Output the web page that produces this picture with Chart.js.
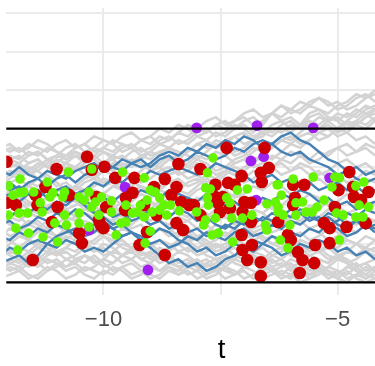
<!DOCTYPE html>
<html><head><meta charset="utf-8">
<script src="https://cdn.jsdelivr.net/npm/chart.js@4.4.1/dist/chart.umd.min.js"></script>
<style>html,body{margin:0;padding:0;background:#fff;overflow:hidden;width:375px;height:366px;}canvas{display:block;}</style>
</head><body><canvas id="c" width="443" height="366"></canvas>
<script>
// ---- data ----
const tGrid = [-12.2,-12.0,-11.8,-11.6,-11.4,-11.2,-11.0,-10.8,-10.6,-10.4,-10.2,-10.0,-9.8,-9.6,-9.4,-9.2,-9.0,-8.8,-8.6,-8.4,-8.2,-8.0,-7.8,-7.6,-7.4,-7.2,-7.0,-6.8,-6.6,-6.4,-6.2,-6.0,-5.8,-5.6,-5.4,-5.2,-5.0,-4.8,-4.6,-4.4,-4.2];

const greyPaths = [
 [1.3,1.5,1.4,1.6,1.5,1.4,1.6,1.7,1.5,1.6, 1.4,1.5,1.7,1.6,1.5,1.7,1.6,1.8,1.7,1.9, 1.8,2.0,1.9,2.1,2.2,2.0,2.2,2.3,2.1,2.4, 2.3,2.5,2.4,2.6,2.5,2.4,2.6,2.7,2.9,2.8,3.0],
 [1.0,1.2,1.1,1.3,1.4,1.2,1.3,1.5,1.6,1.4, 1.5,1.7,1.6,1.4,1.5,1.3,1.4,1.6,1.5,1.7, 1.6,1.8,1.7,1.9,1.8,2.0,2.1,1.9,2.2,2.4, 2.2,2.3,2.1,2.4,2.5,2.3,2.2,2.4,2.3,2.5,2.6],
 [0.6,0.8,0.7,0.9,1.1,1.0,1.2,1.1,1.3,1.2, 1.0,1.1,1.3,1.2,1.4,1.5,1.3,1.4,1.2,1.3, 1.5,1.4,1.6,1.5,1.7,1.8,1.6,1.7,1.9,1.8, 2.0,1.9,2.1,2.2,2.0,2.1,1.9,2.0,2.2,2.1,2.3],
 [0.8,0.6,0.7,0.5,0.7,0.9,0.8,1.0,0.9,1.1, 1.2,1.0,0.9,1.1,1.0,1.2,1.4,1.3,1.5,1.4, 1.3,1.2,1.4,1.6,1.5,1.3,1.4,1.2,1.3,1.5, 1.7,1.6,1.8,1.9,1.7,1.8,2.0,1.9,1.7,1.8,1.6],
 [0.3,0.5,0.4,0.6,0.5,0.7,0.6,0.4,0.5,0.7, 0.8,0.6,0.7,0.9,0.8,0.6,0.7,0.9,1.0,0.8, 0.9,1.1,1.0,0.8,0.9,1.1,1.2,1.0,1.1,1.3, 1.2,1.4,1.3,1.1,1.2,1.4,1.5,1.3,1.4,1.6,1.5],
 [0.1,0.0,0.2,0.3,0.1,0.2,0.4,0.3,0.5,0.4, 0.2,0.3,0.5,0.6,0.4,0.5,0.3,0.4,0.6,0.7, 0.5,0.6,0.8,0.7,0.9,0.8,0.6,0.7,0.9,1.0, 0.8,0.9,1.1,1.0,0.8,0.9,1.1,1.2,1.0,1.1,0.9],
 [-0.2,0.0,-0.1,0.1,0.0,-0.2,-0.1,0.1,0.2,0.0, 0.1,0.3,0.2,0.0,0.1,0.3,0.2,0.4,0.3,0.1, 0.2,0.4,0.5,0.3,0.4,0.2,0.3,0.5,0.4,0.6, 0.5,0.3,0.4,0.6,0.7,0.5,0.6,0.4,0.5,0.7,0.6],
 [-0.5,-0.3,-0.4,-0.2,-0.3,-0.1,-0.2,-0.4,-0.3,-0.1, 0.0,-0.2,-0.1,0.1,0.0,-0.2,-0.1,0.1,0.0,0.2, 0.1,-0.1,0.0,0.2,0.1,0.3,0.2,0.0,0.1,-0.1, 0.0,0.2,0.1,0.3,0.2,0.0,0.1,0.3,0.2,0.0,0.1],
 [-0.8,-0.6,-0.7,-0.5,-0.6,-0.4,-0.5,-0.7,-0.6,-0.4, -0.5,-0.3,-0.4,-0.6,-0.5,-0.3,-0.4,-0.2,-0.3,-0.5, -0.4,-0.2,-0.3,-0.1,-0.2,-0.4,-0.3,-0.1,-0.2,0.0, -0.1,-0.3,-0.2,0.0,-0.1,0.1,0.0,-0.2,-0.1,0.1,0.0],
 [-1.0,-1.2,-1.1,-0.9,-1.0,-0.8,-0.9,-0.7,-0.8,-1.0, -0.9,-0.7,-0.8,-0.6,-0.7,-0.9,-0.8,-0.6,-0.7,-0.5, -0.6,-0.8,-0.7,-0.5,-0.6,-0.4,-0.5,-0.7,-0.6,-0.4, -0.5,-0.3,-0.4,-0.6,-0.5,-0.3,-0.4,-0.2,-0.3,-0.5,-0.4],
 [-1.4,-1.2,-1.3,-1.5,-1.4,-1.2,-1.3,-1.1,-1.2,-1.0, -1.1,-1.3,-1.2,-1.0,-1.1,-0.9,-1.0,-1.2,-1.1,-0.9, -1.0,-0.8,-0.9,-1.1,-1.0,-0.8,-0.9,-0.7,-0.8,-1.0, -0.9,-0.7,-0.8,-0.6,-0.7,-0.9,-0.8,-0.6,-0.7,-0.5,-0.6],
 [-1.7,-1.5,-1.6,-1.4,-1.5,-1.7,-1.6,-1.4,-1.5,-1.3, -1.4,-1.6,-1.5,-1.3,-1.4,-1.2,-1.3,-1.5,-1.4,-1.2, -1.3,-1.5,-1.4,-1.6,-1.5,-1.3,-1.4,-1.2,-1.3,-1.5, -1.4,-1.2,-1.3,-1.1,-1.2,-1.4,-1.3,-1.5,-1.4,-1.2,-1.3],
 [-1.9,-1.8,-1.7,-1.9,-1.8,-1.6,-1.7,-1.9,-1.8,-1.6, -1.7,-1.8,-1.6,-1.7,-1.9,-1.8,-1.6,-1.7,-1.5,-1.6, -1.8,-1.7,-1.9,-1.8,-1.6,-1.7,-1.9,-1.8,-1.6,-1.7, -1.8,-1.6,-1.7,-1.9,-1.8,-1.6,-1.7,-1.8,-1.6,-1.8,-1.9],
 [1.2,1.0,1.1,0.9,0.7,0.8,0.6,0.4,0.5,0.3, 0.1,0.2,0.0,-0.2,-0.1,-0.3,-0.5,-0.4,-0.6,-0.8, -0.7,-0.9,-1.1,-1.0,-1.2,-1.1,-1.3,-1.5,-1.4,-1.6, -1.5,-1.7,-1.6,-1.8,-1.7,-1.9,-1.8,-1.6,-1.7,-1.9,-1.8],
 [-1.6,-1.4,-1.5,-1.3,-1.1,-1.2,-1.0,-0.8,-0.9,-0.7, -0.5,-0.6,-0.4,-0.2,-0.3,-0.1,0.1,0.0,0.2,0.4, 0.3,0.5,0.7,0.6,0.8,1.0,0.9,1.1,1.3,1.2, 1.4,1.6,1.5,1.7,1.9,1.8,2.0,2.2,2.1,2.3,2.5],
 [0.4,0.2,0.3,0.1,-0.1,0.0,-0.2,-0.1,-0.3,-0.2, -0.4,-0.3,-0.5,-0.4,-0.6,-0.5,-0.7,-0.6,-0.8,-0.7, -0.9,-0.8,-1.0,-0.9,-0.7,-0.8,-0.6,-0.7,-0.9,-0.8, -1.0,-1.1,-0.9,-1.0,-1.2,-1.1,-1.3,-1.2,-1.0,-1.1,-0.9],
 [1.5,1.6,1.4,1.5,1.7,1.6,1.4,1.3,1.5,1.6, 1.8,1.7,1.6,1.8,1.9,1.7,1.8,2.0,1.9,2.1, 2.0,1.8,1.9,2.1,2.0,2.2,2.3,2.1,2.2,2.4, 2.6,2.5,2.7,2.6,2.8,2.7,2.5,2.6,2.8,2.9,2.7],
 [-1.2,-1.0,-0.8,-0.9,-0.7,-0.6,-0.8,-0.9,-0.7,-0.5, -0.6,-0.8,-1.0,-0.9,-1.1,-1.3,-1.2,-1.4,-1.3,-1.5, -1.4,-1.6,-1.5,-1.7,-1.6,-1.4,-1.5,-1.3,-1.4,-1.2, -1.1,-1.3,-1.4,-1.6,-1.5,-1.7,-1.8,-1.6,-1.5,-1.7,-1.6],
 [0.9,1.1,1.0,0.8,0.9,0.7,0.5,0.6,0.4,0.6, 0.7,0.9,0.8,0.6,0.5,0.7,0.9,1.0,1.2,1.1, 1.0,1.2,1.1,0.9,1.0,1.2,1.3,1.5,1.4,1.6, 1.8,1.7,1.9,2.1,2.0,2.2,2.4,2.3,2.5,2.4,2.2],
 [-0.3,-0.5,-0.6,-0.4,-0.5,-0.7,-0.8,-0.6,-0.7,-0.9, -1.0,-0.8,-0.9,-1.1,-1.2,-1.0,-1.1,-0.9,-1.0,-1.2, -1.1,-1.3,-1.2,-1.0,-1.1,-1.3,-1.2,-1.4,-1.5,-1.3, -1.4,-1.6,-1.5,-1.7,-1.6,-1.8,-1.7,-1.9,-1.8,-1.6,-1.7],
 [-1.8,-1.6,-1.7,-1.5,-1.6,-1.4,-1.5,-1.7,-1.6,-1.8, -1.9,-1.7,-1.8,-1.6,-1.5,-1.7,-1.8,-1.9,-1.7,-1.8, -1.6,-1.7,-1.5,-1.4,-1.6,-1.8,-1.7,-1.9,-1.8,-1.7, -1.9,-1.8,-2.0,-1.9,-1.7,-1.8,-1.9,-1.7,-1.9,-2.0,-1.9],
 [1.1,1.3,1.2,1.4,1.3,1.5,1.4,1.2,1.3,1.1, 1.2,1.4,1.3,1.5,1.6,1.4,1.5,1.7,1.8,1.6, 1.7,1.9,2.0,1.8,1.9,2.1,2.0,1.8,1.9,2.1, 2.2,2.0,2.1,2.3,2.4,2.2,2.3,2.1,2.2,2.4,2.5],
 [-1.0,-0.9,-1.1,-1.2,-1.0,-1.1,-1.3,-1.2,-1.4,-1.3, -1.5,-1.4,-1.2,-1.3,-1.1,-1.2,-1.4,-1.3,-1.1,-1.0, -1.2,-1.1,-1.3,-1.4,-1.3,-1.5,-1.6,-1.4,-1.5,-1.7, -1.6,-1.4,-1.5,-1.3,-1.4,-1.5,-1.3,-1.4,-1.6,-1.5,-1.4],
 [0.0,0.2,0.1,-0.1,-0.2,0.0,0.1,-0.1,0.0,0.2, 0.4,0.3,0.5,0.4,0.6,0.5,0.3,0.5,0.6,0.4, 0.6,0.7,0.5,0.4,0.6,0.5,0.7,0.9,0.8,1.0, 1.1,0.9,1.0,0.8,0.9,0.7,0.8,0.6,0.7,0.9,0.8],
 [-0.6,-0.8,-0.7,-0.9,-1.1,-1.0,-1.2,-1.1,-0.9,-1.0, -1.2,-1.1,-1.3,-1.5,-1.4,-1.6,-1.5,-1.7,-1.6,-1.8, -1.7,-1.9,-1.8,-1.6,-1.7,-1.8,-1.6,-1.7,-1.9,-1.8, -1.7,-1.8,-1.6,-1.5,-1.7,-1.6,-1.4,-1.5,-1.7,-1.8,-1.6],
 [0.5,0.7,0.9,0.8,1.0,1.2,1.1,0.9,1.0,0.8, 0.7,0.5,0.6,0.4,0.3,0.5,0.4,0.2,0.3,0.1, 0.0,0.2,0.1,-0.1,0.0,-0.2,-0.3,-0.1,-0.2,-0.4, -0.3,-0.5,-0.4,-0.2,-0.3,-0.1,-0.2,-0.4,-0.5,-0.3,-0.4],
 [1.4,1.2,1.3,1.1,1.2,1.0,1.1,1.3,1.4,1.2, 1.3,1.5,1.4,1.6,1.5,1.7,1.8,1.6,1.7,1.9, 2.1,2.0,2.2,2.3,2.1,2.2,2.4,2.5,2.3,2.4, 2.6,2.4,2.5,2.7,2.8,2.6,2.7,2.5,2.6,2.8,2.9],
 [-1.5,-1.7,-1.6,-1.8,-1.9,-1.7,-1.5,-1.6,-1.4,-1.5, -1.3,-1.5,-1.7,-1.6,-1.8,-1.7,-1.9,-1.8,-1.6,-1.7, -1.5,-1.6,-1.8,-1.7,-1.9,-1.8,-1.6,-1.5,-1.7,-1.6, -1.8,-1.9,-1.7,-1.8,-1.6,-1.7,-1.9,-2.0,-1.8,-1.9,-1.7],
 [0.2,0.4,0.3,0.5,0.4,0.2,0.3,0.1,0.2,0.4, 0.5,0.7,0.6,0.8,0.7,0.9,1.1,1.0,0.8,0.9, 1.1,1.3,1.2,1.4,1.3,1.1,1.2,1.4,1.6,1.5, 1.7,1.8,1.6,1.7,1.9,2.0,1.8,1.9,2.1,2.0,2.2],
 [-0.4,-0.2,-0.3,-0.5,-0.4,-0.6,-0.5,-0.3,-0.4,-0.2, -0.3,-0.5,-0.4,-0.2,-0.1,-0.3,-0.2,-0.4,-0.5,-0.3, -0.4,-0.6,-0.5,-0.7,-0.8,-0.6,-0.7,-0.9,-0.8,-1.0, -1.1,-0.9,-1.0,-1.2,-1.1,-1.3,-1.4,-1.2,-1.3,-1.1,-1.2],
 [1.6,1.4,1.5,1.3,1.4,1.2,1.0,1.1,0.9,1.0, 0.8,0.9,1.1,1.0,1.2,1.1,0.9,1.0,0.8,0.9, 0.7,0.8,0.6,0.7,0.9,0.8,1.0,1.1,0.9,1.0, 1.2,1.1,1.3,1.2,1.4,1.3,1.5,1.6,1.4,1.5,1.3],
 [-1.1,-1.3,-1.4,-1.2,-1.3,-1.5,-1.4,-1.6,-1.5,-1.7, -1.6,-1.4,-1.5,-1.3,-1.2,-1.4,-1.3,-1.1,-1.2,-1.0, -0.9,-1.1,-1.0,-1.2,-1.1,-0.9,-1.0,-1.2,-1.1,-1.3, -1.2,-1.0,-1.1,-1.3,-1.2,-1.0,-1.1,-0.9,-1.0,-1.2,-1.1],
 [0.7,0.9,0.8,1.0,0.9,1.1,1.3,1.2,1.4,1.3, 1.5,1.4,1.2,1.3,1.1,1.2,1.0,1.1,1.3,1.2, 1.4,1.6,1.5,1.7,1.6,1.4,1.5,1.7,1.8,2.0, 1.9,2.1,2.0,2.2,2.1,2.3,2.2,2.0,2.1,2.3,2.4],
 [-1.3,-1.5,-1.4,-1.6,-1.5,-1.3,-1.2,-1.4,-1.3,-1.1, -1.2,-1.0,-1.1,-1.3,-1.2,-1.4,-1.5,-1.3,-1.4,-1.6, -1.5,-1.4,-1.6,-1.5,-1.3,-1.4,-1.2,-1.3,-1.5,-1.4, -1.6,-1.5,-1.7,-1.6,-1.4,-1.5,-1.3,-1.4,-1.6,-1.5,-1.7],
 [0.3,0.1,0.2,0.0,0.1,-0.1,0.0,0.2,0.1,-0.1, -0.2,0.0,-0.1,-0.3,-0.2,0.0,0.1,-0.1,0.0,-0.2, -0.3,-0.1,-0.2,-0.4,-0.3,-0.5,-0.4,-0.6,-0.5,-0.7, -0.6,-0.8,-0.7,-0.9,-0.8,-0.6,-0.7,-0.9,-1.0,-0.8,-0.9],
 [1.0,0.8,0.9,1.1,1.2,1.0,0.9,1.1,1.0,1.2, 1.3,1.1,1.2,1.0,1.1,1.3,1.2,1.4,1.5,1.3, 1.4,1.6,1.7,1.5,1.6,1.8,1.9,1.7,2.0,1.9, 2.1,2.2,2.0,2.1,2.3,2.2,2.0,2.2,2.4,2.6,2.5]
];

const bluePaths = [
 [0.9,0.8,1.0,0.8,0.7,0.9,0.8,0.7,0.9,1.0, 1.1,0.9,1.0,1.2,1.1,1.0,1.1,1.3,1.4,1.3, 1.5,1.4,1.6,1.5,1.7,1.6,1.8,1.7,1.5,1.6, 1.4,1.3,1.4,1.2,1.1,1.0,0.8,0.9,0.7,0.6,0.7],
 [0.5,0.6,0.4,0.6,0.7,0.5,0.7,0.8,0.6,0.8, 0.9,1.1,1.0,0.9,1.1,1.2,1.0,1.2,1.3,1.1, 1.2,1.4,1.3,1.2,1.3,1.5,1.4,1.6,1.7,1.6, 1.8,1.9,1.7,1.6,1.4,1.2,1.1,0.9,1.0,0.8,0.9],
 [0.2,0.3,0.1,0.3,0.4,0.2,0.4,0.5,0.3,0.4, 0.6,0.5,0.7,0.6,0.8,0.7,0.9,0.8,0.9,1.0, 0.9,0.8,0.9,1.1,1.0,0.9,0.8,0.6,0.7,0.8, 0.6,0.7,0.5,0.6,0.4,0.5,0.6,0.4,0.5,0.3,0.4],
 [-0.2,-0.3,-0.1,-0.2,0.0,-0.1,0.1,0.0,0.2,0.1, 0.0,0.2,0.1,0.3,0.2,0.4,0.3,0.2,0.4,0.3, 0.2,0.1,0.3,0.2,0.0,0.1,-0.1,0.0,0.2,0.1, 0.3,0.2,0.4,0.3,0.1,0.2,0.0,0.1,-0.1,0.0,0.1],
 [-0.5,-0.4,-0.6,-0.5,-0.3,-0.4,-0.2,-0.3,-0.1,-0.2, -0.4,-0.3,-0.5,-0.4,-0.2,-0.3,-0.1,-0.2,-0.3,-0.1, -0.2,-0.4,-0.3,-0.5,-0.6,-0.4,-0.5,-0.3,-0.4,-0.2, -0.3,-0.1,-0.2,-0.4,-0.3,-0.5,-0.4,-0.2,-0.3,-0.1,-0.2],
 [-1.3,-1.1,-1.2,-1.0,-0.9,-1.0,-0.8,-0.7,-0.6,-0.8, -0.7,-0.5,-0.6,-0.8,-0.7,-0.9,-0.8,-0.6,-0.7,-0.9, -1.0,-1.2,-1.1,-1.3,-1.2,-1.0,-1.1,-0.9,-1.0,-0.8, -0.9,-0.7,-0.8,-0.6,-0.7,-0.5,-0.6,-0.8,-0.7,-0.5,-0.6],
 [-1.5,-1.4,-1.3,-1.5,-1.3,-1.0,-1.1,-0.9,-1.0,-1.2, -1.1,-1.2,-1.0,-0.8,-0.7,-0.9,-1.1,-1.3,-1.5,-1.4, -1.6,-1.5,-1.7,-1.6,-1.4,-1.3,-1.1,-1.2,-1.0,-1.1, -1.3,-1.2,-1.0,-1.1,-0.9,-1.0,-1.2,-1.1,-1.3,-1.2,-1.4],
 [0.6,0.4,0.5,0.3,0.2,0.4,0.3,0.1,0.2,0.0, -0.2,-0.1,-0.3,-0.2,-0.4,-0.3,-0.5,-0.4,-0.6,-0.5, -0.7,-0.6,-0.8,-0.7,-0.5,-0.6,-0.4,-0.5,-0.3,-0.4, -0.2,-0.3,-0.1,-0.2,-0.4,-0.3,-0.5,-0.6,-0.4,-0.5,-0.7],
 [-0.8,-0.9,-0.7,-0.8,-0.6,-0.7,-0.5,-0.6,-0.8,-0.7, -0.5,-0.4,-0.6,-0.5,-0.7,-0.8,-1.0,-0.9,-1.1,-1.0, -0.8,-0.9,-0.7,-0.8,-0.9,-0.7,-0.6,-0.8,-0.7,-0.5, -0.6,-0.4,-0.5,-0.3,-0.4,-0.2,-0.3,-0.5,-0.4,-0.6,-0.5]
];

const redT = [-12.07,-10.35,-11.00,-10.25,-11.24,-11.45,-12.07,-11.87,-11.41,-10.98,-10.73,-10.15,-11.10,-10.52,-10.46,-10.06,-11.51,-9.98,-9.75,-9.34,-8.40,-8.69,-8.44,-9.52,-9.38,-8.92,-8.55,-8.34,-8.17,-9.54,-9.94,-10.10,-10.00,-9.13,-8.86,-8.44,-8.30,-9.07,-9.23,-8.69,-7.37,-6.56,-7.93,-7.05,-6.64,-6.47,-6.62,-7.61,-7.34,-7.20,-7.45,-7.61,-7.55,-7.51,-7.30,-6.99,-6.85,-7.03,-8.07,-7.93,-6.85,-6.27,-7.05,-6.83,-7.03,-6.93,-6.64,-6.64,-4.75,-5.95,-5.71,-4.98,-4.67,-4.65,-5.91,-5.95,-5.06,-5.29,-5.17,-4.81,-6.06,-6.00,-5.17,-5.48,-5.85,-5.75,-5.50,-5.81,-4.40,-4.50,-4.34];
const redV = [1.14,1.27,0.95,0.93,0.48,0.27,0.07,0.01,0.01,-0.04,0.27,0.22,-0.43,-0.72,-0.98,-0.51,-1.42,1.01,0.72,0.72,1.08,0.69,0.48,0.20,0.33,0.48,0.27,0.09,0.01,-0.12,-0.04,-0.38,-0.59,0.01,-0.25,-0.46,-0.64,-0.69,-1.03,-1.29,1.50,1.50,0.95,0.77,0.85,0.98,0.61,0.54,0.59,0.54,0.22,0.22,0.07,-0.17,-0.07,0.09,0.07,-0.17,0.01,-0.25,-0.43,-0.43,-0.77,-1.03,-1.16,-1.42,-1.48,-1.84,0.87,0.54,0.54,0.40,0.48,0.22,0.20,0.01,-0.04,-0.46,-0.59,-0.56,-0.77,-0.90,-0.98,-1.03,-1.21,-1.42,-1.50,-1.76,-0.46,0.14,0.35];

const greenT = [-11.78,-10.75,-10.25,-11.20,-12.03,-11.70,-11.93,-11.80,-11.49,-11.08,-10.83,-10.31,-11.35,-11.14,-10.87,-10.52,-10.41,-10.25,-11.80,-11.62,-12.03,-11.31,-10.83,-10.52,-10.17,-11.04,-10.79,-10.52,-10.31,-11.87,-11.60,-11.29,-10.98,-11.83,-9.59,-9.13,-10.04,-9.83,-9.00,-8.90,-8.80,-9.07,-9.21,-9.27,-9.13,-8.96,-8.80,-8.71,-8.65,-9.38,-8.57,-8.38,-9.52,-9.83,-9.52,-9.63,-9.73,-9.00,-9.11,-10.10,-7.66,-7.78,-7.82,-7.72,-7.14,-6.93,-6.29,-7.78,-7.76,-7.37,-7.30,-6.51,-6.33,-8.01,-7.82,-7.86,-7.61,-7.26,-7.03,-6.83,-6.54,-6.51,-7.68,-7.55,-7.24,-6.22,-6.27,-5.95,-5.52,-6.27,-5.06,-4.96,-5.12,-4.61,-4.44,-6.20,-5.89,-5.75,-5.29,-5.44,-6.27,-4.54,-4.34,-5.68,-5.54,-5.89,-5.02,-4.88,-6.16,-4.61,-4.46,-6.02,-4.96,-6.06];
const greenV = [0.69,0.87,0.95,0.61,0.51,0.35,0.27,0.33,0.35,0.33,0.35,0.35,0.07,0.22,0.22,0.22,0.14,-0.04,-0.20,-0.20,-0.25,-0.17,-0.25,-0.20,0.09,-0.46,-0.51,-0.46,-0.56,-0.59,-0.72,-0.82,-0.95,-1.16,0.87,0.72,0.22,0.12,0.40,0.35,0.20,0.14,0.01,-0.17,-0.30,-0.17,-0.12,0.01,-0.25,-0.20,0.01,-0.14,0.01,-0.17,-0.43,-0.46,-0.77,-0.67,-0.98,-0.25,1.24,0.85,0.46,0.43,0.40,0.43,0.54,0.20,0.01,0.20,0.07,0.04,0.09,-0.17,-0.38,-0.51,-0.33,-0.33,-0.33,-0.25,-0.51,-0.64,-0.77,-0.72,-0.95,-0.90,-0.17,0.69,0.74,0.54,0.74,0.72,0.48,0.51,0.61,0.27,0.07,0.09,0.14,-0.04,-0.04,0.01,-0.04,-0.17,-0.17,-0.25,-0.20,-0.25,-0.25,-0.30,-0.30,-0.51,-0.90,-1.11];

const purpleT = [-8.01,-6.72,-5.52,-6.85,-6.58,-6.74,-9.54,-9.05,-10.31,-5.17,-5.19];
const purpleV = [2.02,2.08,2.02,1.16,1.27,0.14,0.48,-1.68,-0.64,0.72,-0.56];

const boxT = [-13, -2];
const boxUpper = [2, 2];
const boxLower = [-2, -2];

const xTickValues = [-10, -7.5, -5];
const xTickLabels = ['\u221210', '', '\u22125'];
const yTickValues = [-2, -1, 0, 1, 2, 3, 4, 5];

// ---- build ----
const pts = (ts, vs) => ts.map((t, i) => ({x: t, y: vs[i]})).filter(p => p.y !== undefined && p.x !== undefined);
const datasets = [];
datasets.push({data: pts(boxT, boxUpper), showLine: true, borderColor: '#000', borderWidth: 2.2, pointRadius: 0, order: 0});
datasets.push({data: pts(boxT, boxLower), showLine: true, borderColor: '#000', borderWidth: 2.2, pointRadius: 0, order: 0});
datasets.push({data: pts(greenT, greenV), backgroundColor: '#66f500', borderWidth: 0, pointRadius: 4.8, order: 1});
datasets.push({data: pts(redT, redV), backgroundColor: '#cc0000', borderWidth: 0, pointRadius: 6.3, order: 2});
datasets.push({data: pts(purpleT, purpleV), backgroundColor: '#a020f0', borderWidth: 0, pointRadius: 5.4, order: 3});
bluePaths.forEach(p => datasets.push({data: pts(tGrid, p), showLine: true, borderColor: '#4682b4', borderWidth: 2.4, pointRadius: 0, tension: 0, order: 4}));
greyPaths.forEach(p => datasets.push({data: pts(tGrid, p), showLine: true, borderColor: '#d3d3d3', borderWidth: 2.5, pointRadius: 0, tension: 0, order: 5}));

const FONT = '"Liberation Sans", Arial, Helvetica, sans-serif';
new Chart(document.getElementById('c'), {
  type: 'scatter',
  data: {datasets},
  options: {
    responsive: false,
    animation: false,
    events: [],
    layout: {padding: {top: 8, right: 0, bottom: 0, left: 0}},
    plugins: {legend: {display: false}, tooltip: {enabled: false}},
    scales: {
      x: {
        type: 'linear', min: -12.075, max: -2.884,
        border: {display: false},
        grid: {color: '#ebebeb', lineWidth: 2, drawTicks: false},
        afterBuildTicks: s => { s.ticks = xTickValues.map(v => ({value: v})); },
        ticks: {autoSkip: false, maxRotation: 0, padding: 11.3, color: '#4d4d4d',
                font: {family: FONT, size: 22},
                callback: (v) => { const i = xTickValues.indexOf(v); return i >= 0 ? xTickLabels[i] : ''; }},
        title: {display: true, text: 't', color: '#000', font: {family: FONT, size: 27.5, lineHeight: 1}, padding: {top: 0, bottom: 2.3}},
        afterFit: s => { s.height = 71; }
      },
      y: {
        type: 'linear', min: -2.331, max: 5.143,
        border: {display: false},
        grid: {color: '#ebebeb', lineWidth: 2, drawTicks: false},
        afterBuildTicks: s => { s.ticks = yTickValues.map(v => ({value: v})); },
        ticks: {display: false},
        afterFit: s => { s.width = 0; }
      }
    }
  }
});
</script></body></html>
